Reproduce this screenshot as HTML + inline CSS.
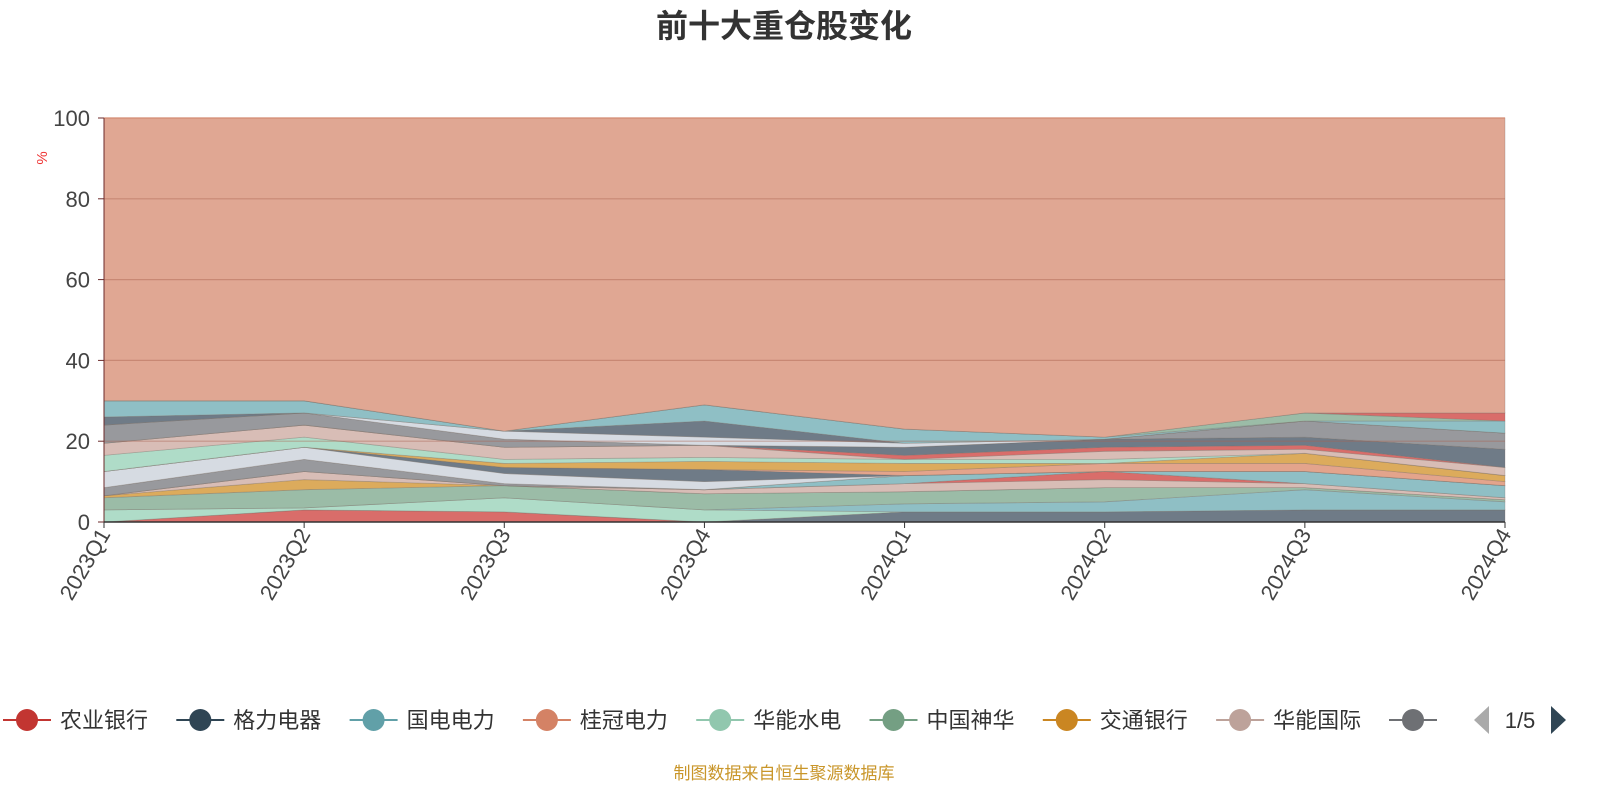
<!DOCTYPE html>
<html><head><meta charset="utf-8"><style>
body{margin:0;background:#fff;width:1600px;height:800px;overflow:hidden;font-family:"Liberation Sans","Noto Sans CJK SC",sans-serif}
</style></head><body>
<svg id="chart" width="1600" height="800" xmlns="http://www.w3.org/2000/svg" font-family="Liberation Sans, Noto Sans CJK SC, sans-serif">
<text x="784" y="37" text-anchor="middle" font-size="32" font-weight="bold" fill="#333">前十大重仓股变化</text>
<text x="0" y="0" transform="translate(47,158) rotate(-90)" text-anchor="middle" font-size="15" fill="#e33">%</text>
<g id="areas"></g><g id="grid"></g><g id="axes"></g><g id="legend"></g>
<text x="784" y="779" text-anchor="middle" font-size="17" fill="#c9962a">制图数据来自恒生聚源数据库</text>
</svg>
<script>
const categories=["2023Q1","2023Q2","2023Q3","2023Q4","2024Q1","2024Q2","2024Q3","2024Q4"];
const yTicks=[0,20,40,60,80,100];
const s1=[0,3,2.5,0,0,0,0,0];
const s2=[0,0,0,0,2.5,2.5,3,3];
const s3=[3,0.5,3.5,3,0,0,0,0];
const s4=[0,0,0,0,2,2.5,5,2];
const s5=[3,4.5,3,4,3,3.5,0.5,0.5];
const s6=[0.5,2.5,0,0,0,0,0,0];
const s7=[0,2,0,1,2,2,1,0.5];
const s8=[0,0,0,0,0,2,0,0];
const s9=[0,0,0,0,2,0,3,3];
const s10=[2,3,0.5,0,0,0,0,0];
const s11=[4,3,2.5,2,0,0,0,0];
const s12=[0,0,1.5,3,0,0,0,0];
const s13=[0,0,0,0,1,2,2,1];
const s14=[0,0,1,2,2,0,2.5,1.5];
const s15=[4,2.5,1,1,1,1,0,0];
const s16=[3,3,3,3,0,2,1,2];
const s17=[0,0,0,0,1,1,1,0];
const s18=[0,0,0,0,2,2,2,4.5];
const s19=[4.5,3,2,0,0,0,4,4];
const s20=[0,0,2,2,1,0,0,0];
const s21=[2,0,0,4,0,0,0,0];
const s22=[4,3,0,4,3.5,0.5,0,3];
const s23=[0,0,0,0,0,0,2,0];
const s24=[0,0,0,0,0,0,0,2];
const series=[s1,s2,s3,s4,s5,s6,s7,s8,s9,s10,s11,s12,s13,s14,s15,s16,s17,s18,s19,s20,s21,s22,s23,s24];
const fills=["#d96d6a","#6f7b87","#afdcc8","#8fbfc5","#9bbca7","#dcab5c","#d8bdb6","#d96d6a","#8fbfc5","#98999d","#d6dbe2","#6f7b87","#e3a48c","#dcab5c","#afdcc8","#d8bdb6","#d96d6a","#6f7b87","#98999d","#d6dbe2","#6f7b87","#8fbfc5","#9bbca7","#d96d6a"];
const X0=104,X1=1505,Y0=522,Y1=118;
const xs=i=>X0+(X1-X0)*i/(categories.length-1);
const ys=v=>Y0-(Y0-Y1)*v/100;
const NS="http://www.w3.org/2000/svg";
const areas=document.getElementById('areas');
let base=categories.map(()=>0);
function addArea(vals,fill,name){
  const top=base.map((b,i)=>b+vals[i]);
  let d="M"+top.map((v,i)=>xs(i)+","+ys(v)).join("L");
  for(let i=categories.length-1;i>=0;i--)d+="L"+xs(i)+","+ys(base[i]);
  d+="Z";
  const p=document.createElementNS(NS,'path');
  p.setAttribute('d',d);p.setAttribute('fill',fill);p.setAttribute('stroke','rgba(120,110,100,0.35)');p.setAttribute('stroke-width','0.8');
  
  
  areas.appendChild(p);base=top;
}
series.forEach((s,k)=>addArea(s,fills[k],'area-series-'+(k+1)));
const other=base.map(b=>100-b);
addArea(other,"#e0a793",'area-other');
const grid=document.getElementById('grid'),axes=document.getElementById('axes');
yTicks.forEach(t=>{
  if(t>0){const l=document.createElementNS(NS,'line');
  l.setAttribute('x1',X0);l.setAttribute('x2',X1);l.setAttribute('y1',ys(t));l.setAttribute('y2',ys(t));l.setAttribute('stroke',t==100?'#d48a72':'rgba(170,100,80,0.45)');l.setAttribute('stroke-width','1.2');
  
  
  grid.appendChild(l);}
  const tk=document.createElementNS(NS,'line');tk.setAttribute('x1',X0-6);tk.setAttribute('x2',X0);tk.setAttribute('y1',ys(t));tk.setAttribute('y2',ys(t));tk.setAttribute('stroke','#6b2a2a');axes.appendChild(tk);
  const tx=document.createElementNS(NS,'text');tx.setAttribute('x',X0-14);tx.setAttribute('y',ys(t)+8);tx.setAttribute('text-anchor','end');tx.setAttribute('font-size','22');tx.setAttribute('fill','#444');tx.textContent=t;
  
  
  axes.appendChild(tx);
});
const ya=document.createElementNS(NS,'line');ya.setAttribute('x1',X0);ya.setAttribute('x2',X0);ya.setAttribute('y1',Y1);ya.setAttribute('y2',Y0);ya.setAttribute('stroke','#6b2a2a');


axes.appendChild(ya);
const xa=document.createElementNS(NS,'line');xa.setAttribute('x1',X0);xa.setAttribute('x2',X1);xa.setAttribute('y1',Y0);xa.setAttribute('y2',Y0);xa.setAttribute('stroke','#333');xa.setAttribute('stroke-width','1.5');


axes.appendChild(xa);
categories.forEach((c,i)=>{
  const tk=document.createElementNS(NS,'line');tk.setAttribute('x1',xs(i));tk.setAttribute('x2',xs(i));tk.setAttribute('y1',Y0);tk.setAttribute('y2',Y0+6);tk.setAttribute('stroke','#333');axes.appendChild(tk);
  const tx=document.createElementNS(NS,'text');tx.setAttribute('transform','translate('+(xs(i)+7)+','+(Y0+12)+') rotate(-60)');tx.setAttribute('text-anchor','end');tx.setAttribute('font-size','22');tx.setAttribute('fill','#444');tx.textContent=c;
  
  
  axes.appendChild(tx);
});
const legNames=["农业银行","格力电器","国电电力","桂冠电力","华能水电","中国神华","交通银行","华能国际"];
const legColors=["#c23531","#2f4554","#61a0a8","#d48265","#91c7ae","#749f83","#ca8622","#bda29a"];
const leg=document.getElementById('legend');
const LY=720;
function legendItem(cx,color,label){
  const g=document.createElementNS(NS,'g');
  
  
  g.innerHTML='<line x1="'+(cx-24)+'" x2="'+(cx+24)+'" y1="'+LY+'" y2="'+LY+'" stroke="'+color+'" stroke-width="2"/><circle cx="'+cx+'" cy="'+LY+'" r="11" fill="'+color+'"/>'+(label?'<text x="'+(cx+33)+'" y="'+(LY+8)+'" font-size="22" fill="#333">'+label+'</text>':'');
  leg.appendChild(g);
}
legNames.forEach((n,i)=>legendItem(27+i*173.3,legColors[i],n));
legendItem(1413,"#6e7074","");
const cover=document.createElementNS(NS,'rect');cover.setAttribute('x',1451);cover.setAttribute('y',700);cover.setAttribute('width',149);cover.setAttribute('height',40);cover.setAttribute('fill','#fff');leg.appendChild(cover);
const pg=document.createElementNS(NS,'g');


pg.innerHTML='<polygon points="1489,706 1489,734 1474,720" fill="#aaa"/><text x="1520" y="728" text-anchor="middle" font-size="22" fill="#333">1/5</text><polygon points="1551,706 1551,734 1566,720" fill="#2f4554"/>';
leg.appendChild(pg);
</script>
</body></html>
